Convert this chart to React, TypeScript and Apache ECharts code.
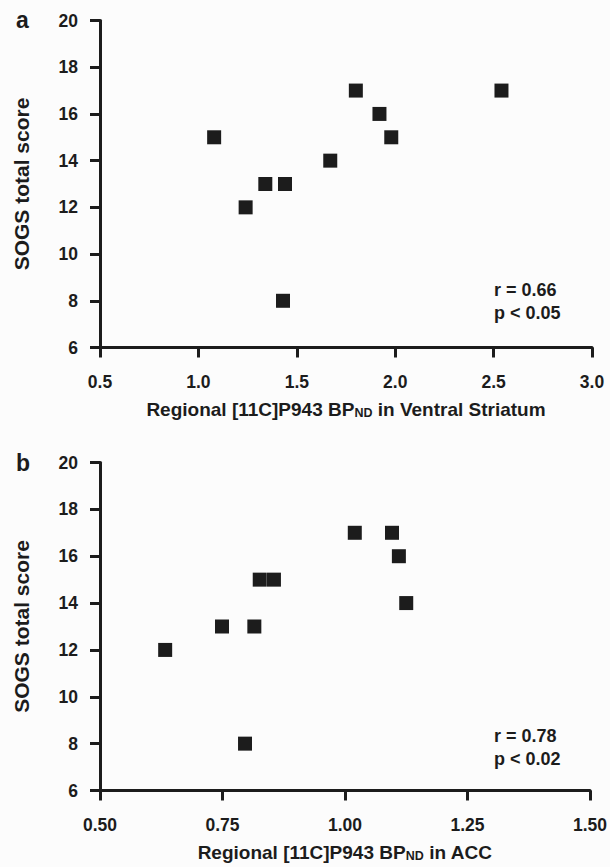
import React, { useEffect, useRef } from "react";
import * as echarts from "echarts";

const panelLabels = ["a", "b"];
const yTitle = "SOGS total score";
const xTitleA = "Regional [11C]P943 BP{sub|ND} in Ventral Striatum";
const xTitleB = "Regional [11C]P943 BP{sub|ND} in ACC";

const xA = [1.08, 1.24, 1.34, 1.44, 1.43, 1.67, 1.80, 1.92, 1.98, 2.54];
const yA = [15, 12, 13, 13, 8, 14, 17, 16, 15, 17];

const xB = [0.633, 0.749, 0.815, 0.826, 0.855, 0.796, 1.02, 1.096, 1.11, 1.125];
const yB = [12, 13, 13, 15, 15, 8, 17, 17, 16, 14];

const statsA = ["r = 0.66", "p < 0.05"];
const statsB = ["r = 0.78", "p < 0.02"];

const INK = "#1c1c1c";
const FONT = "'Liberation Sans', Arial, Helvetica, sans-serif";

export default function App() {
  const ref = useRef<HTMLDivElement>(null);
  useEffect(() => {
    if (!ref.current) return;
    const chart = echarts.init(ref.current, null, { renderer: "svg" });
    const axisCommon = {
      axisLine: { show: true, lineStyle: { color: INK, width: 3 } },
      axisTick: { show: true, length: 10, lineStyle: { color: INK, width: 3 } },
      splitLine: { show: false },
      axisLabel: { color: INK, fontSize: 17.5, fontWeight: "bold", fontFamily: FONT },
    };
    const xAxis = (name: string, gridIndex: number, min: number, max: number, interval: number, decimals: number) => ({
      type: "value",
      gridIndex,
      min,
      max,
      interval,
      name,
      nameLocation: "middle",
      nameGap: 51,
      nameTextStyle: {
        color: INK,
        fontSize: 19,
        fontWeight: "bold",
        fontFamily: FONT,
        rich: {
          sub: { fontSize: 12.5, fontWeight: "bold", fontFamily: FONT, color: INK, padding: [8, 0, 0, 0] },
        },
      },
      ...axisCommon,
      axisLabel: { ...axisCommon.axisLabel, margin: 25, formatter: (v: number) => v.toFixed(decimals) },
    });
    const yAxis = (gridIndex: number) => ({
      type: "value",
      gridIndex,
      min: 6,
      max: 20,
      interval: 2,
      name: yTitle,
      nameLocation: "middle",
      nameGap: 68,
      nameTextStyle: { color: INK, fontSize: 21, fontWeight: "bold", fontFamily: FONT },
      ...axisCommon,
      axisLabel: { ...axisCommon.axisLabel, margin: 22 },
    });
    const stat = (lines: string[], top: number) =>
      lines.map((t, i) => ({
        type: "text",
        left: 494,
        top: top + i * 23,
        style: { text: t, fill: INK, font: `bold 18px ${FONT}` },
      }));
    const scatter = (idx: number, xs: number[], ys: number[]) => ({
      type: "scatter",
      xAxisIndex: idx,
      yAxisIndex: idx,
      symbol: "rect",
      symbolSize: 14,
      itemStyle: { color: INK, opacity: 1 },
      data: xs.map((x, i) => [x, ys[i]]),
    });
    chart.setOption({
      animation: false,
      backgroundColor: "#fcfcfc",
      grid: [
        { left: 100, top: 20.5, width: 492, height: 327 },
        { left: 100, top: 462.5, width: 492, height: 328 },
      ],
      xAxis: [xAxis(xTitleA, 0, 0.5, 3.0, 0.5, 1), xAxis(xTitleB, 1, 0.5, 1.5, 0.25, 2)],
      yAxis: [yAxis(0), yAxis(1)],
      series: [scatter(0, xA, yA), scatter(1, xB, yB)],
      graphic: [
        {
          type: "text",
          left: 16,
          top: 8,
          style: { text: panelLabels[0], fill: INK, font: `bold 23px ${FONT}` },
        },
        {
          type: "text",
          left: 16,
          top: 451,
          style: { text: panelLabels[1], fill: INK, font: `bold 23px ${FONT}` },
        },
        ...stat(statsA, 281),
        ...stat(statsB, 727),
      ],
    });
    return () => chart.dispose();
  }, []);
  return <div ref={ref} style={{ position: "fixed", left: 0, top: 0, width: 610, height: 867 }} />;
}
